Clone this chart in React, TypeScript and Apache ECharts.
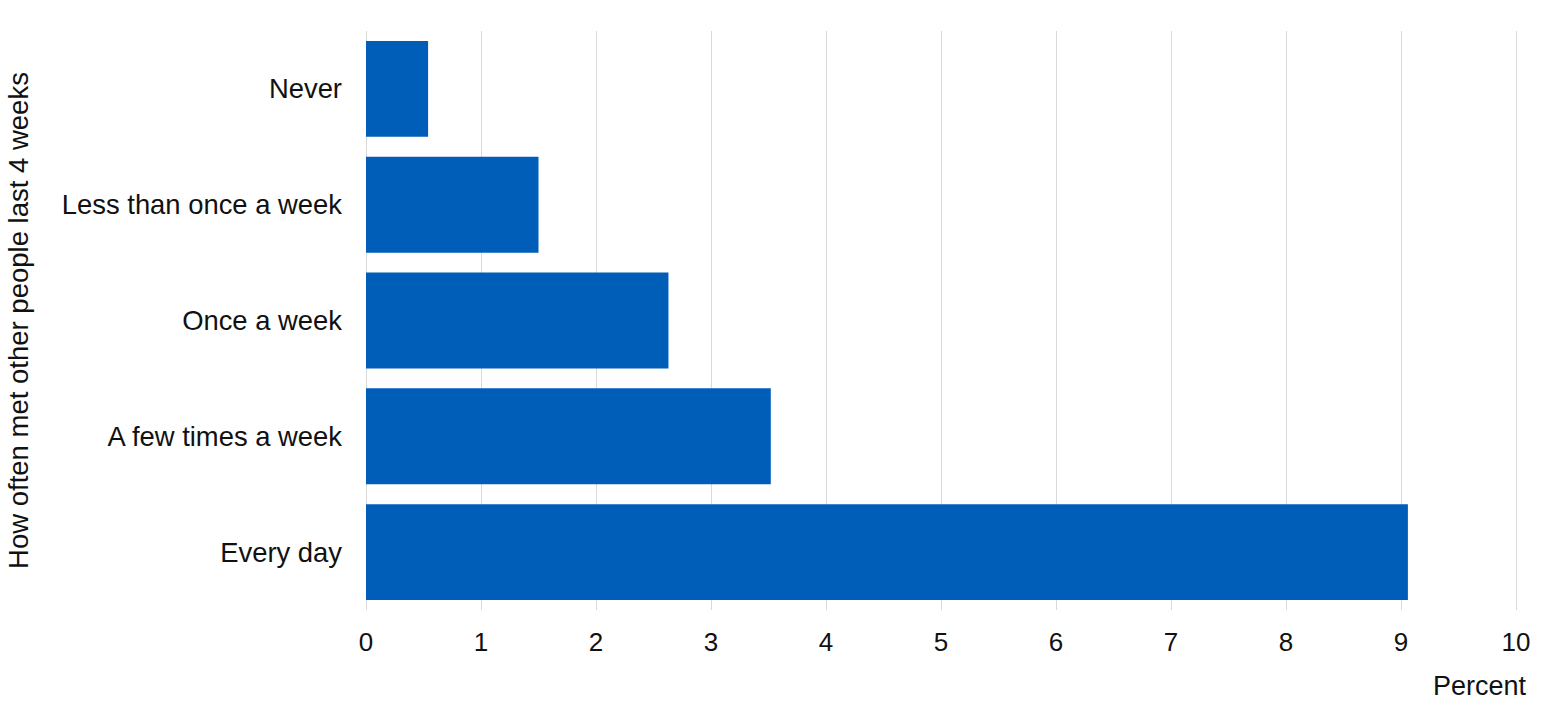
import React, { useEffect, useRef } from 'react'
import * as echarts from 'echarts'

// categories, bottom to top as drawn by the category axis
const categories = ['Every day', 'A few times a week', 'Once a week', 'Less than once a week', 'Never']
const percentValues = [9.06, 3.52, 2.63, 1.5, 0.54]
const xTicks = { min: 0, max: 10, interval: 1 }

const yAxisTitle = 'How often met other people last 4 weeks'
const xAxisTitle = 'Percent'

const FONT = 'Liberation Sans, Arial, sans-serif'

export default function App(): JSX.Element {
  const chartRef = useRef<HTMLDivElement>(null)

  useEffect(() => {
    if (!chartRef.current) return
    const chart = echarts.init(chartRef.current, undefined, { renderer: 'svg' })

    chart.setOption({
      animation: false,
      backgroundColor: '#ffffff',
      textStyle: { fontFamily: FONT },
      grid: { left: 366, right: 43, top: 31, bottom: 105, outerBoundsMode: 'none', containLabel: false },
      xAxis: {
        type: 'value',
        min: xTicks.min,
        max: xTicks.max,
        interval: xTicks.interval,
        axisLine: { show: false },
        axisTick: { show: false },
        axisLabel: { color: '#111111', fontSize: 26, margin: 19, fontFamily: FONT },
        splitLine: { show: true, lineStyle: { color: '#d9d9d9', width: 1 } }
      },
      yAxis: {
        type: 'category',
        data: categories,
        name: yAxisTitle,
        nameLocation: 'middle',
        nameGap: 334,
        nameTextStyle: { color: '#111111', fontSize: 27.5, fontFamily: FONT },
        axisLine: { show: false },
        axisTick: { show: false },
        axisLabel: { color: '#111111', fontSize: 27.4, margin: 24, fontFamily: FONT },
        splitLine: { show: false }
      },
      graphic: [
        {
          type: 'text',
          right: 33,
          top: 672,
          style: { text: xAxisTitle, fill: '#111111', fontSize: 27, fontFamily: FONT }
        }
      ],
      series: [
        {
          type: 'bar',
          data: percentValues,
          barCategoryGap: '17.2%',
          itemStyle: { color: '#005eb8' }
        }
      ]
    })

    return () => {
      chart.dispose()
    }
  }, [])

  return (
    <div
      ref={chartRef}
      style={{ position: 'absolute', left: 0, top: 0, width: 1559, height: 715 }}
    />
  )
}
